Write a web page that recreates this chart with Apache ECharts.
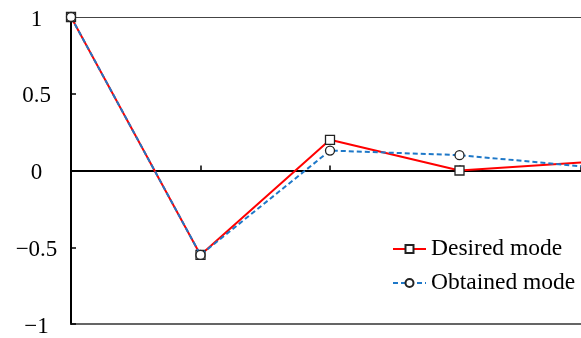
<!DOCTYPE html>
<html><head><meta charset="utf-8">
<script src="https://cdn.jsdelivr.net/npm/echarts@6/dist/echarts.min.js"></script>
<style>html,body{margin:0;padding:0;background:#fff}#c{width:581px;height:338px}</style>
</head><body><div id="c"></div>
<script>
var xValues = [0, 1, 2, 3, 4];
var desired = [1, -0.55, 0.2, 0, 0.055];
var obtained = [1, -0.55, 0.13, 0.1, 0.023];
var yTicks = { '1': '1', '0.5': '0.5', '0': '0', '-0.5': '\u22120.5', '-1': '\u22121' };
var seriesNames = ['Desired mode', 'Obtained mode'];
// visible x range: axis continues past the right edge (x=4 lies just outside the picture)
var xMax = 4 * 510 / 518;

function pairs(vals) { return xValues.map(function (x, i) { return [x, vals[i]]; }); }

var chart = echarts.init(document.getElementById('c'), null, { renderer: 'canvas' });
chart.setOption({
  animation: false,
  backgroundColor: '#fff',
  grid: { left: 71, right: 0, top: 17, bottom: 13, show: false },
  legend: {
    left: 392, top: 237, padding: 0, orient: 'vertical', itemGap: 10, itemWidth: 33, itemHeight: 10,
    textStyle: { fontFamily: 'Liberation Serif', fontSize: 23.5, color: '#000' },
    data: seriesNames
  },
  xAxis: [{
    type: 'value', min: 0, max: xMax, interval: 1,
    axisLine: { onZero: true, lineStyle: { color: '#000', width: 2 } },
    axisTick: { show: true, inside: true, length: 5, lineStyle: { color: '#000', width: 1.5 } },
    axisLabel: { show: false }, splitLine: { show: false }
  }, {
    type: 'value', position: 'top', min: 0, max: xMax,
    axisLine: { show: true, lineStyle: { color: '#444', width: 1 } },
    axisTick: { show: false }, axisLabel: { show: false }, splitLine: { show: false }
  }, {
    type: 'value', position: 'bottom', min: 0, max: xMax,
    axisLine: { show: true, onZero: false, lineStyle: { color: '#333', width: 1.5 } },
    axisTick: { show: false }, axisLabel: { show: false }, splitLine: { show: false }
  }],
  yAxis: {
    type: 'value', min: -1, max: 1, interval: 0.5,
    axisLine: { show: true, lineStyle: { color: '#000', width: 2 } },
    axisTick: { show: true, inside: true, length: 5, lineStyle: { color: '#000', width: 1.5 } },
    axisLabel: {
      margin: 34.5, align: 'center', verticalAlign: 'top', lineHeight: 5,
      fontFamily: 'Liberation Serif', fontSize: 23, color: '#000',
      formatter: function (v) { return yTicks[String(v)] !== undefined ? yTicks[String(v)] : v; }
    },
    splitLine: { show: false }
  },
  series: [
    {
      name: seriesNames[0], type: 'line', data: pairs(desired), clip: true,
      symbol: 'rect', symbolSize: 9,
      lineStyle: { color: '#ff0000', width: 2 },
      itemStyle: { color: '#fff', borderColor: '#222', borderWidth: 1.3 },
      z: 2
    },
    {
      name: seriesNames[1], type: 'line', data: pairs(obtained), clip: true,
      symbol: 'circle', symbolSize: 9,
      lineStyle: { color: '#1e78c8', width: 2, type: [5, 3] },
      itemStyle: { color: '#fff', borderColor: '#222', borderWidth: 1.3 },
      z: 3
    }
  ]
});
</script></body></html>
